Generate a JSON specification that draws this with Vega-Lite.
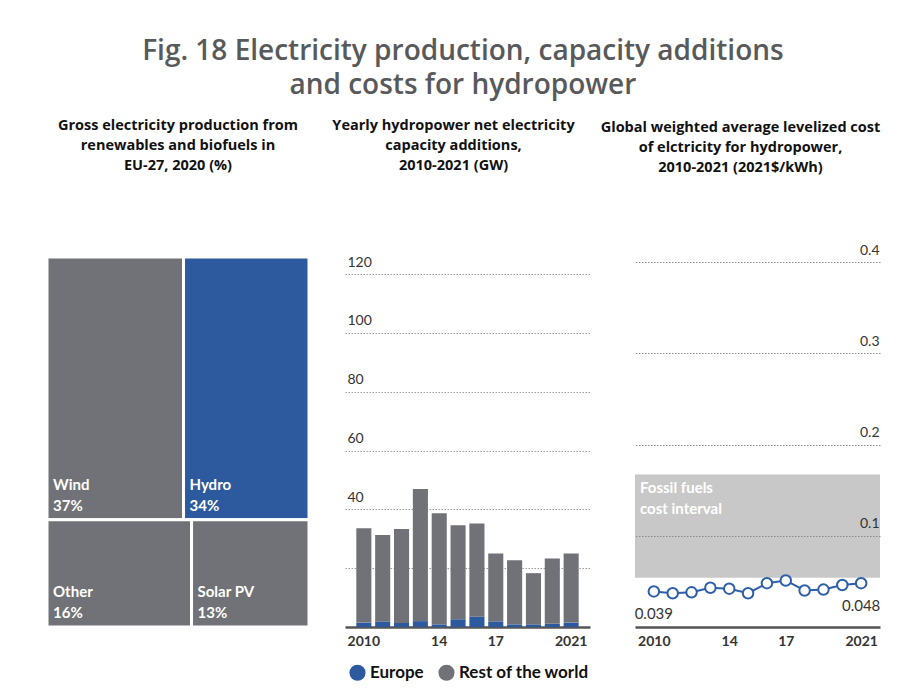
{
  "$schema": "https://vega.github.io/schema/vega-lite/v6.json",
  "background": "white",
  "padding": {"left": 45, "top": 37, "right": 34, "bottom": 5},
  "config": {
    "font": "Lato",
    "view": {"stroke": null},
    "title": {"font": "Open Sans", "fontSize": 14.5, "fontWeight": "bold", "color": "#111111", "lineHeight": 20, "anchor": "middle", "frame": "group"}
  },
  "title": {
    "text": ["Fig. 18 Electricity production, capacity additions", "and costs for hydropower"],
    "font": "Open Sans",
    "fontSize": 28,
    "fontWeight": 600,
    "color": "#58595b",
    "lineHeight": 33.6,
    "anchor": "middle",
    "frame": "bounds",
    "offset": 18
  },
  "bounds": "flush",
  "spacing": 36,
  "resolve": {"scale": {"color": "independent"}, "legend": {"color": "independent"}},
  "hconcat": [
    {
      "width": 262,
      "height": 370,
      "title": {"text": ["Gross electricity production from", "renewables and biofuels in", "EU-27, 2020 (%)"], "offset": 82},
      "data": {"values": [
        {"source": "Wind", "share": 37, "row": "top"},
        {"source": "Hydro", "share": 34, "row": "top"},
        {"source": "Other", "share": 16, "row": "bottom"},
        {"source": "Solar PV", "share": 13, "row": "bottom"}
      ]},
      "transform": [
        {"joinaggregate": [{"op": "sum", "field": "share", "as": "rowTotal"}], "groupby": ["row"]},
        {"window": [{"op": "sum", "field": "share", "as": "cum"}], "groupby": ["row"], "sort": [{"field": "share", "order": "descending"}], "frame": [null, 0]},
        {"calculate": "(datum.cum - datum.share) / datum.rowTotal * 100", "as": "x0"},
        {"calculate": "datum.cum / datum.rowTotal * 100", "as": "x1"},
        {"calculate": "datum.row === 'top' ? 100 - datum.rowTotal : 0", "as": "y0"},
        {"calculate": "datum.row === 'top' ? 100 : datum.rowTotal", "as": "y1"},
        {"calculate": "datum.share + '%'", "as": "pct"}
      ],
      "layer": [
        {
          "mark": {"type": "rect", "stroke": "white", "strokeWidth": 3},
          "encoding": {
            "x": {"field": "x0", "type": "quantitative", "scale": {"domain": [0, 100], "nice": false}, "axis": null},
            "x2": {"field": "x1"},
            "y": {"field": "y0", "type": "quantitative", "scale": {"domain": [0, 100], "nice": false}, "axis": null},
            "y2": {"field": "y1"},
            "color": {"condition": {"test": "datum.source === 'Hydro'", "value": "#2d5a9e"}, "value": "#707277"}
          }
        },
        {
          "mark": {"type": "text", "align": "left", "baseline": "alphabetic", "dx": 6, "dy": -30, "fontSize": 15, "fontWeight": "bold", "color": "white"},
          "encoding": {
            "x": {"field": "x0", "type": "quantitative"},
            "y": {"field": "y0", "type": "quantitative"},
            "text": {"field": "source"}
          }
        },
        {
          "mark": {"type": "text", "align": "left", "baseline": "alphabetic", "dx": 6, "dy": -9, "fontSize": 15, "fontWeight": "bold", "color": "white"},
          "encoding": {
            "x": {"field": "x0", "type": "quantitative"},
            "y": {"field": "y0", "type": "quantitative"},
            "text": {"field": "pct"}
          }
        }
      ]
    },
    {
      "bounds": "flush",
      "spacing": 45,
      "resolve": {"scale": {"color": "independent"}, "legend": {"color": "independent"}},
      "hconcat": [
        {
          "width": 245,
          "height": 370,
          "title": {"text": ["Yearly hydropower net electricity", "capacity additions,", "2010-2021 (GW)"], "offset": 82, "dx": -14},
          "data": {"values": [
            {"year": 2010, "region": "Europe", "gw": 1.5}, {"year": 2010, "region": "Rest of the world", "gw": 32.1},
            {"year": 2011, "region": "Europe", "gw": 1.9}, {"year": 2011, "region": "Rest of the world", "gw": 29.4},
            {"year": 2012, "region": "Europe", "gw": 1.4}, {"year": 2012, "region": "Rest of the world", "gw": 31.9},
            {"year": 2013, "region": "Europe", "gw": 2.0}, {"year": 2013, "region": "Rest of the world", "gw": 44.9},
            {"year": 2014, "region": "Europe", "gw": 0.9}, {"year": 2014, "region": "Rest of the world", "gw": 37.8},
            {"year": 2015, "region": "Europe", "gw": 2.6}, {"year": 2015, "region": "Rest of the world", "gw": 32.0},
            {"year": 2016, "region": "Europe", "gw": 3.5}, {"year": 2016, "region": "Rest of the world", "gw": 31.7},
            {"year": 2017, "region": "Europe", "gw": 1.9}, {"year": 2017, "region": "Rest of the world", "gw": 23.1},
            {"year": 2018, "region": "Europe", "gw": 0.9}, {"year": 2018, "region": "Rest of the world", "gw": 21.8},
            {"year": 2019, "region": "Europe", "gw": 0.9}, {"year": 2019, "region": "Rest of the world", "gw": 17.4},
            {"year": 2020, "region": "Europe", "gw": 1.1}, {"year": 2020, "region": "Rest of the world", "gw": 22.2},
            {"year": 2021, "region": "Europe", "gw": 1.5}, {"year": 2021, "region": "Rest of the world", "gw": 23.5}
          ]},
          "mark": {"type": "bar"},
          "encoding": {
            "x": {
              "field": "year", "type": "ordinal",
              "scale": {"paddingInner": 0.2, "paddingOuter": 0.6},
              "axis": {"title": null, "labelAngle": 0, "ticks": false, "domainColor": "#555555", "domainWidth": 2.5, "labelPadding": 7, "labelFontSize": 14, "labelFontWeight": "bold", "labelColor": "#333333",
                "labelExpr": "datum.value == 2010 ? '2010' : datum.value == 2014 ? '14' : datum.value == 2017 ? '17' : datum.value == 2021 ? '2021' : ''"}
            },
            "y": {
              "field": "gw", "type": "quantitative", "stack": "zero",
              "scale": {"domain": [0, 125.8], "nice": false},
              "axis": {"title": null, "values": [20, 40, 60, 80, 100, 120], "domain": false, "ticks": false, "labelAlign": "left", "labelBaseline": "alphabetic", "labelPadding": -2, "labelOffset": -8, "labelFontSize": 14, "labelColor": "#333333",
                "labelExpr": "datum.value >= 40 ? datum.label : ''", "gridDash": [1.5, 1.5], "gridColor": "#9a9a9a", "gridWidth": 1}
            },
            "order": {"field": "region", "type": "nominal", "sort": "ascending"},
            "color": {
              "field": "region", "type": "nominal",
              "scale": {"domain": ["Europe", "Rest of the world"], "range": ["#2d5a9e", "#707277"]},
              "legend": {"title": null, "orient": "bottom", "direction": "horizontal", "symbolType": "circle", "symbolSize": 260, "symbolStrokeWidth": 0, "labelFontSize": 17, "labelFontWeight": "bold", "labelColor": "#111111", "columnPadding": 14, "offset": 12, "padding": 4}
            }
          }
        },
        {
          "width": 245,
          "height": 370,
          "title": {"text": ["Global weighted average levelized cost", "of elctricity for hydropower,", "2010-2021 (2021$/kWh)"], "offset": 68, "dx": -17},
          "layer": [
            {
              "data": {"values": [{"from": 2009, "to": 2022, "lo": 0.054, "hi": 0.167}]},
              "mark": {"type": "rect", "color": "#c8c8c8"},
              "encoding": {
                "x": {"field": "from", "type": "quantitative"},
                "x2": {"field": "to"},
                "y": {"field": "lo", "type": "quantitative"},
                "y2": {"field": "hi"}
              }
            },
            {
              "data": {"values": [{"year": 2009, "cost": 0.167, "label": "Fossil fuels\ncost interval"}]},
              "mark": {"type": "text", "align": "left", "baseline": "alphabetic", "lineBreak": "\n", "lineHeight": 21, "fontSize": 15, "fontWeight": "bold", "color": "white", "dx": 5, "dy": 18},
              "encoding": {
                "x": {"field": "year", "type": "quantitative"},
                "y": {"field": "cost", "type": "quantitative"},
                "text": {"field": "label"}
              }
            },
            {
              "data": {"name": "lcoe"},
              "mark": {"type": "line", "color": "#2d5ea8", "strokeWidth": 2},
              "encoding": {
                "x": {"field": "year", "type": "quantitative"},
                "y": {"field": "cost", "type": "quantitative"}
              }
            },
            {
              "data": {"name": "lcoe"},
              "mark": {"type": "point", "filled": true, "fill": "white", "stroke": "#2d5ea8", "strokeWidth": 2, "size": 110, "opacity": 1},
              "encoding": {
                "x": {"field": "year", "type": "quantitative"},
                "y": {"field": "cost", "type": "quantitative"}
              }
            },
            {
              "data": {"values": [{"year": 2010, "cost": 0.039, "label": "0.039"}, {"year": 2021, "cost": 0.048, "label": "0.048"}]},
              "mark": {"type": "text", "align": "center", "baseline": "alphabetic", "dy": 28, "fontSize": 15, "color": "#333333"},
              "encoding": {
                "x": {"field": "year", "type": "quantitative"},
                "y": {"field": "cost", "type": "quantitative"},
                "text": {"field": "label"}
              }
            }
          ],
          "encoding": {
            "x": {
              "type": "quantitative",
              "scale": {"domain": [2009, 2022], "nice": false, "zero": false},
              "axis": {"title": null, "values": [2010, 2014, 2017, 2021], "format": "d", "grid": false, "ticks": false, "domainColor": "#555555", "domainWidth": 2.5, "labelPadding": 7, "labelFontSize": 14, "labelFontWeight": "bold", "labelColor": "#333333", "labelFlush": false,
                "labelExpr": "datum.value == 2014 ? '14' : datum.value == 2017 ? '17' : datum.label"}
            },
            "y": {
              "type": "quantitative",
              "scale": {"domain": [0, 0.4055], "nice": false},
              "axis": {"title": null, "orient": "right", "values": [0.1, 0.2, 0.3, 0.4], "domain": false, "ticks": false, "labelAlign": "right", "labelBaseline": "alphabetic", "labelPadding": -1, "labelOffset": -8, "labelFontSize": 14, "labelColor": "#333333", "format": ".1f",
                "gridDash": [1.5, 1.5], "gridColor": "#8a8a8a", "gridWidth": 1, "zindex": 1}
            }
          }
        }
      ]
    }
  ],
  "datasets": {
    "lcoe": [
      {"year": 2010, "cost": 0.039}, {"year": 2011, "cost": 0.037}, {"year": 2012, "cost": 0.038},
      {"year": 2013, "cost": 0.043}, {"year": 2014, "cost": 0.042}, {"year": 2015, "cost": 0.037},
      {"year": 2016, "cost": 0.048}, {"year": 2017, "cost": 0.051}, {"year": 2018, "cost": 0.040},
      {"year": 2019, "cost": 0.041}, {"year": 2020, "cost": 0.046}, {"year": 2021, "cost": 0.048}
    ]
  }
}
